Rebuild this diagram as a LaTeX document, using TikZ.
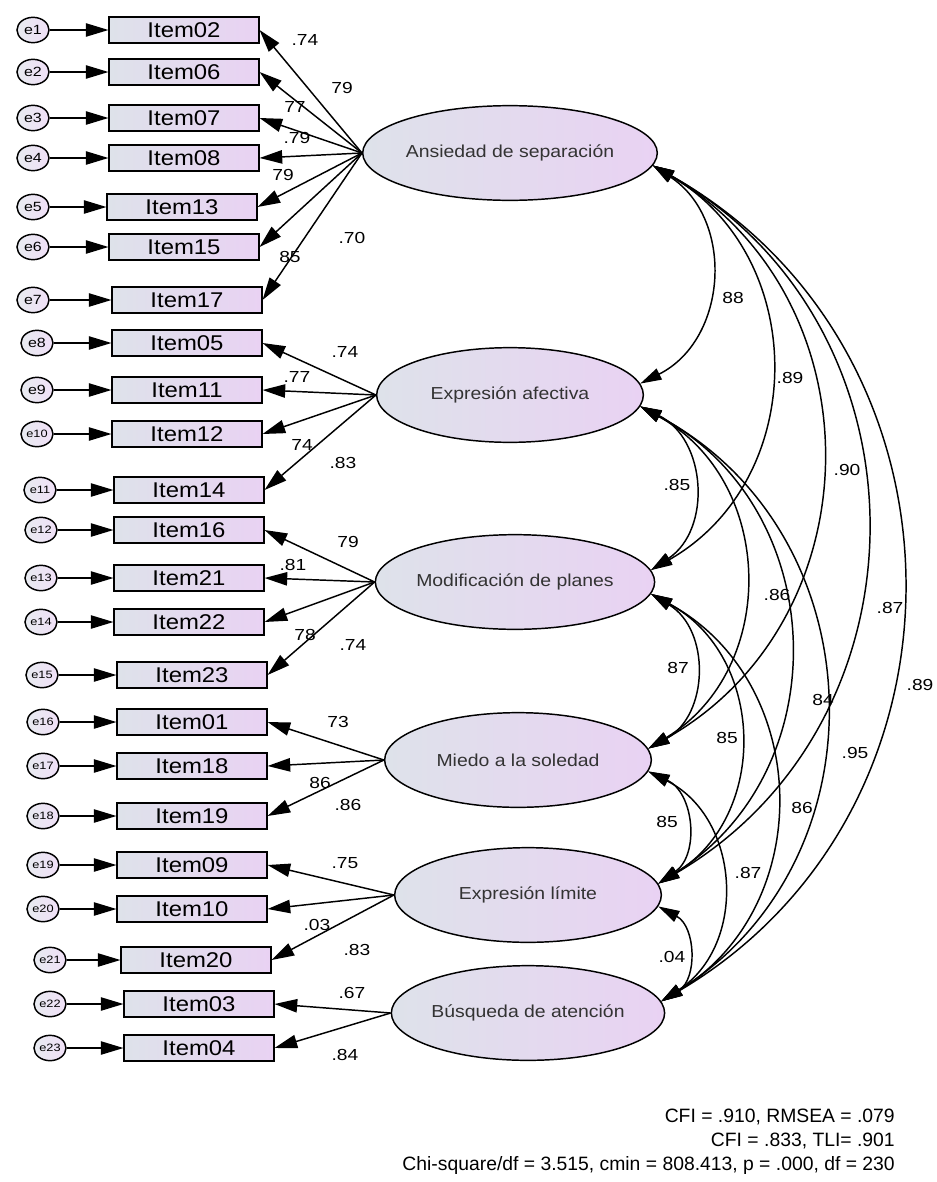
\documentclass[tikz,border=0pt]{standalone}
\usepackage{fontspec}
\setmainfont{Liberation Sans}
\newfontfamily\itemfont[FakeStretch=1.12]{Liberation Sans}
\newfontfamily\numfont[FakeStretch=1.2]{Liberation Sans}
\usetikzlibrary{arrows.meta,shapes.geometric}
\definecolor{shadeL}{RGB}{222,226,234}
\definecolor{shadeR}{RGB}{233,210,243}

\begin{document}
\begin{tikzpicture}[x=0.75pt,y=0.75pt,yscale=-1,xscale=1,
  item/.style={rectangle,draw,line width=1.3pt,left color=shadeL,right color=shadeR,minimum width=112pt,minimum height=19pt,inner sep=0pt,font=\itemfont\fontsize{16}{16}\selectfont},
  errc/.style={ellipse,draw,line width=1.1pt,left color=shadeL!70!white,right color=shadeR!70!white,minimum width=24pt,minimum height=19pt,inner sep=0pt},
  latent/.style={ellipse,draw,line width=1.1pt,left color=shadeL,right color=shadeR,minimum width=200pt,minimum height=71pt,inner sep=0pt,text=black!80,font=\itemfont\fontsize{13}{13}\selectfont},
  coef/.style={inner sep=0pt,font=\numfont\fontsize{12}{12}\selectfont},
  onearrow/.style={-{Triangle[length=17pt,width=10pt]},line width=1.1pt},
  corr/.style={{Triangle[length=16pt,width=9pt]}-{Triangle[length=16pt,width=9pt]},line width=1.1pt}
]
\useasboundingbox[fill=white] (0,0) rectangle (937,1182);

%Shape: Ellipse (latent factors)
\node[latent] (F1) at (510,153) {Ansiedad de separación};
\node[latent] (F2) at (510,395) {Expresión afectiva};
\node[latent] (F3) at (515,582) {Modificación de planes};
\node[latent] (F4) at (518,760) {Miedo a la soledad};
\node[latent] (F5) at (528,895) {Expresión límite};
\node[latent] (F6) at (528,1013) {Búsqueda de atención};

%Shape: Rectangle + Circle (items and errors)
\foreach \it/\yy/\bx/\ex/\en/\fs in {02/30/184/33/1/10,06/72/184/33/2/10,07/118/184/33/3/10,08/158/184/33/4/10,
  13/207/182/33/5/10,15/247/184/33/6/10,17/300/187/33/7/10,05/343/187/37/8/10,11/390/187/37/9/10,
  12/434/187/37/10/8,14/490/189/40/11/8,16/530/189/41/12/8,21/578/189/41/13/8,22/622/189/41/14/8,
  23/675/192/42/15/8,01/722/192/43/16/8,18/766/192/43/17/8,19/816/192/43/18/8,09/865/192/43/19/8,
  10/909/192/43/20/8,20/960/196/50/21/8,03/1004/199/50/22/8,04/1048/199/50/23/8}{
  \node[item] (i\it) at (\bx,\yy) {Item\it};
  \node[errc,font=\numfont\fontsize{\fs}{\fs}\selectfont] (e\en) at (\ex,\yy) {e\en};
  \draw[onearrow] (e\en) -- (i\it);
}

%Straight Lines (loadings)
\foreach \f/\it in {1/02,1/06,1/07,1/08,1/13,1/15,1/17,2/05,2/11,2/12,2/14,3/16,3/21,3/22,3/23,
  4/01,4/18,4/19,5/09,5/10,5/20,6/03,6/04}
  \draw[onearrow] (F\f.west) -- (i\it.east);

%Curve Lines (correlations)
\foreach \a/\b in {1/2,1/3,1/4,1/5,1/6,2/3,2/4,2/5,2/6,3/4,3/5,3/6,4/5,4/6,5/6}
  \draw[corr] (F\a.-5) to[bend right=60,looseness=1.15] (F\b.5);

% Text Node (loadings)
\foreach \nm/\xx/\yy/\txt in {la/305/40/.74,lb/342/88/79,lc/295/107/77,ld/297/138/.79,le/283/175/79,
  lf/352/238/.70,lg/290/257/85,lh/345/352/.74,li/297/377/.77,lj/302/445/74,lk/343/463/.83,
  ll/348/542/79,lm/293/565/.81,ln/305/635/78,lo/353/645/.74,lp/338/722/73,lq/320/783/86,
  lr/348/805/.86,ls/345/863/.75,lt/317/925/.03,lu/357/950/.83,lv/352/993/.67,lw/345/1055/.84}
  \node[coef] (\nm) at (\xx,\yy) {\txt};

% Text Node (correlations)
\foreach \nm/\xx/\yy/\txt in {r12/733/298/88,r13/790/378/.89,r14/847/470/.90,r15/890/608/.87,
  r16/920/685/.89,r23/677/485/.85,r24/777/595/.86,r25/823/700/84,r26/855/753/.95,r34/678/668/87,
  r35/727/738/85,r36/802/808/86,r45/667/822/85,r46/748/873/.87,r56/672/957/.04}
  \node[coef] (\nm) at (\xx,\yy) {\txt};

% Text Node
\node[anchor=east,align=right,inner sep=0pt,font=\fontsize{14.5}{18}\selectfont] (fit) at (895,1142)
  {CFI = .910, RMSEA = .079\\CFI = .833, TLI= .901\\Chi-square/df = 3.515, cmin = 808.413, p = .000, df = 230};

\end{tikzpicture}
\end{document}
